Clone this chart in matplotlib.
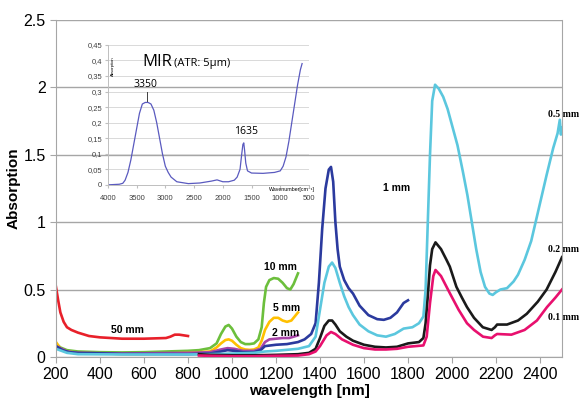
import matplotlib
matplotlib.use("Agg")
import matplotlib.pyplot as plt
from matplotlib.ticker import FuncFormatter

plt.rcParams['font.family'] = ['Liberation Sans', 'DejaVu Sans']

# ---- main spectra (wavelength nm, absorption) ----
wl_50 = [200, 210, 220, 235, 250, 270, 300, 350, 400, 500, 600, 700, 720, 740, 760, 780, 800]
ab_50 = [0.52, 0.42, 0.33, 0.26, 0.22, 0.2, 0.18, 0.155, 0.145, 0.135, 0.135, 0.14, 0.15, 0.165,
         0.165, 0.16, 0.155]

wl_10 = [200, 220, 250, 300, 400, 500, 600, 700, 800, 850, 900, 930, 950, 970, 985, 1000, 1020,
         1040, 1060, 1080, 1100, 1120, 1135, 1145, 1155, 1170, 1190, 1210, 1230, 1250, 1265, 1280, 1300]
ab_10 = [0.1, 0.07, 0.05, 0.04, 0.035, 0.033, 0.035, 0.04, 0.045, 0.05, 0.065, 0.1, 0.17, 0.225,
         0.237, 0.21, 0.15, 0.11, 0.095, 0.095, 0.1, 0.13, 0.22, 0.4, 0.52, 0.57, 0.585, 0.58, 0.55,
         0.51, 0.5, 0.54, 0.62]

wl_5 = [200, 220, 250, 300, 400, 500, 600, 700, 800, 900, 930, 950, 970, 985, 1000, 1020, 1040,
        1060, 1080, 1100, 1120, 1135, 1150, 1170, 1190, 1210, 1230, 1250, 1270, 1285, 1300]
ab_5 = [0.11, 0.06, 0.04, 0.03, 0.025, 0.022, 0.022, 0.025, 0.03, 0.04, 0.07, 0.1, 0.125, 0.13,
        0.12, 0.09, 0.065, 0.055, 0.052, 0.055, 0.07, 0.12, 0.2, 0.26, 0.29, 0.29, 0.27, 0.26, 0.27,
        0.3, 0.33]

wl_2 = [200, 250, 300, 500, 800, 900, 950, 980, 1010, 1050, 1100, 1130, 1150, 1170, 1200, 1230,
        1260, 1300]
ab_2 = [0.08, 0.04, 0.03, 0.025, 0.03, 0.035, 0.055, 0.065, 0.06, 0.045, 0.045, 0.06, 0.11, 0.13,
        0.135, 0.14, 0.14, 0.16]

wl_1 = [200, 230, 260, 300, 500, 800, 900, 950, 980, 1010, 1050, 1100, 1130, 1150, 1200, 1250,
        1300, 1330, 1360, 1380, 1395, 1410, 1425, 1440, 1450, 1460, 1470, 1480, 1490, 1510, 1530,
        1550, 1580, 1620, 1660, 1690, 1720, 1750, 1780, 1800]
ab_1 = [0.08, 0.05, 0.035, 0.03, 0.022, 0.02, 0.025, 0.04, 0.05, 0.045, 0.035, 0.035, 0.05, 0.08,
        0.09, 0.095, 0.11, 0.13, 0.17, 0.25, 0.55, 0.95, 1.25, 1.39, 1.41, 1.3, 1.0, 0.8, 0.67, 0.57,
        0.51, 0.47, 0.38, 0.31, 0.28, 0.275, 0.29, 0.33, 0.4, 0.42]

wl_05 = [200, 250, 300, 500, 800, 900, 1000, 1100, 1150, 1200, 1300, 1350, 1380, 1400, 1420, 1440,
         1455, 1470, 1490, 1510, 1530, 1550, 1580, 1620, 1660, 1700, 1740, 1780, 1820, 1850, 1870,
         1880, 1890, 1900, 1910, 1923, 1940, 1960, 1980, 2000, 2025, 2050, 2070, 2090, 2110, 2130,
         2150, 2170, 2185, 2200, 2220, 2250, 2280, 2300, 2330, 2360, 2400, 2430, 2460, 2480, 2490,
         2495, 2500]
ab_05 = [0.06, 0.03, 0.02, 0.018, 0.018, 0.02, 0.025, 0.03, 0.04, 0.045, 0.06, 0.08, 0.15, 0.35,
         0.55, 0.67, 0.7, 0.66, 0.55, 0.45, 0.37, 0.31, 0.24, 0.19, 0.16, 0.15, 0.17, 0.21, 0.22,
         0.25, 0.3, 0.5, 1.0, 1.5, 1.9, 2.02, 1.99, 1.93, 1.84, 1.72, 1.57, 1.37, 1.2, 1.0, 0.8,
         0.63, 0.52, 0.47, 0.46, 0.48, 0.5, 0.51, 0.56, 0.61, 0.72, 0.86, 1.14, 1.35, 1.55, 1.66,
         1.76, 1.65, 1.7]

wl_02 = [850, 900, 1000, 1100, 1200, 1300, 1350, 1380, 1400, 1420, 1440, 1455, 1470, 1490, 1520,
         1550, 1600, 1650, 1700, 1750, 1780, 1800, 1850, 1870, 1880, 1890, 1900, 1910, 1925, 1950,
         1975, 1990, 2020, 2045, 2068, 2100, 2140, 2180, 2195, 2205, 2250, 2300, 2340, 2390, 2430,
         2470, 2500]
ab_02 = [0.02, 0.015, 0.012, 0.012, 0.015, 0.02, 0.03, 0.06, 0.14, 0.23, 0.27, 0.27, 0.24, 0.19,
         0.15, 0.12, 0.09, 0.075, 0.07, 0.075, 0.09, 0.1, 0.11, 0.14, 0.25, 0.45, 0.68, 0.8, 0.85,
         0.8, 0.72, 0.67, 0.52, 0.44, 0.37, 0.29, 0.22, 0.2, 0.22, 0.24, 0.24, 0.27, 0.32, 0.41, 0.5,
         0.63, 0.74]

wl_01 = [850, 900, 1000, 1100, 1200, 1300, 1350, 1380, 1400, 1430, 1450, 1470, 1500, 1550, 1600,
         1650, 1700, 1750, 1800, 1870, 1885, 1900, 1915, 1925, 1950, 1991, 2030, 2068, 2100, 2141,
         2180, 2195, 2205, 2270, 2330, 2386, 2432, 2470, 2500]
ab_01 = [0.01, 0.008, 0.005, 0.005, 0.008, 0.01, 0.02, 0.04, 0.08, 0.16, 0.185, 0.17, 0.13, 0.09,
         0.065, 0.055, 0.055, 0.06, 0.075, 0.085, 0.15, 0.4, 0.6, 0.645, 0.6, 0.47, 0.35, 0.25, 0.2,
         0.15, 0.14, 0.16, 0.17, 0.165, 0.2, 0.27, 0.37, 0.44, 0.5]

# ---- MIR inset (wavenumber cm-1, absorption) ----
wn_mir = [4000, 3800, 3740, 3700, 3650, 3600, 3550, 3500, 3450, 3400, 3350, 3300, 3250, 3200,
          3150, 3100, 3050, 3000, 2950, 2900, 2800, 2600, 2400, 2200, 2100, 2000, 1900, 1800, 1750,
          1700, 1670, 1650, 1635, 1620, 1600, 1570, 1500, 1300, 1100, 1000, 950, 900, 850, 800,
          750, 700, 650, 620]
ab_mir = [0.0, 0.002, 0.005, 0.015, 0.04, 0.08, 0.13, 0.18, 0.23, 0.26, 0.265, 0.265, 0.26, 0.24,
          0.2, 0.15, 0.1, 0.06, 0.04, 0.025, 0.01, 0.004, 0.006, 0.012, 0.016, 0.01, 0.01, 0.015,
          0.025, 0.05, 0.1, 0.13, 0.135, 0.11, 0.07, 0.045, 0.038, 0.037, 0.04, 0.045, 0.06, 0.09,
          0.14, 0.2, 0.26, 0.32, 0.37, 0.39]

fig = plt.figure(figsize=(5.83, 4.01), dpi=100)
ax = fig.add_axes([0.096, 0.110, 0.868, 0.840])

series = [
    (wl_50, ab_50, "#e8202a"),
    (wl_10, ab_10, "#6cbf3c"),
    (wl_5, ab_5, "#ffc000"),
    (wl_2, ab_2, "#a845a8"),
    (wl_1, ab_1, "#2b3a9e"),
    (wl_05, ab_05, "#5bc7de"),
    (wl_02, ab_02, "#1a1a1a"),
    (wl_01, ab_01, "#e8106e"),
]
for x, y, c in series:
    ax.plot(x, y, color=c, lw=1.9, solid_joinstyle="round")

ax.set_xlim(200, 2500)
ax.set_ylim(0, 2.5)
ax.set_xticks(range(200, 2401, 200))
ax.set_yticks([0, 0.5, 1, 1.5, 2, 2.5])
ax.set_yticklabels(["0", "0.5", "1", "1.5", "2", "2.5"])
ax.yaxis.grid(True, color="#a6a6a6", lw=1)
ax.set_axisbelow(True)
for s in ["left", "bottom", "right"]:
    ax.spines[s].set_color("#a6a6a6")
ax.spines["top"].set_visible(False)
ax.tick_params(axis="both", labelsize=11.5, color="#a6a6a6", length=4)
ax.set_xlabel("wavelength [nm]", fontsize=11, fontweight="bold", labelpad=1)
ax.set_ylabel("Absorption", fontsize=11, fontweight="bold", labelpad=2)

# curve labels
lab = dict(fontsize=7.5, fontweight="bold", ha="center", va="center")
ax.text(527, 0.2, "50 mm", **lab)
ax.text(1218, 0.67, "10 mm", **lab)
ax.text(1250, 0.36, "5 mm", **lab)
ax.text(1245, 0.18, "2 mm", **lab)
ax.text(1750, 1.25, "1 mm", **lab)
serif = dict(fontsize=7, fontweight="bold", ha="left", va="center",
             family="Liberation Serif", clip_on=False)
ax.text(2436, 1.8, "0.5 mm", **serif)
ax.text(2436, 0.8, "0.2 mm", **serif)
ax.text(2436, 0.29, "0.1 mm", **serif)

# inset
ins = fig.add_axes([0.185, 0.539, 0.345, 0.349])
ins.patch.set_alpha(0)
ins.plot(wn_mir, ab_mir, color="#5a5abf", lw=0.9)
ins.set_xlim(4000, 500)
ins.set_ylim(0, 0.45)
ins.set_xticks(range(4000, 499, -500))
ins.set_yticks([i * 0.05 for i in range(10)])
ins.yaxis.set_major_formatter(FuncFormatter(lambda v, p: ("%g" % round(v, 2)).replace(".", ",")))
ins.yaxis.grid(True, color="#d9d9d9", lw=0.7)
ins.set_axisbelow(True)
for s in ["top", "right"]:
    ins.spines[s].set_visible(False)
for s in ["left", "bottom"]:
    ins.spines[s].set_color("#bfbfbf")
    ins.spines[s].set_linewidth(0.7)
ins.tick_params(axis="both", labelsize=5.5, labelcolor="#404040", color="#bfbfbf", length=2, pad=2)
ins.tick_params(axis="x", pad=5)
ins.text(0.17, 0.88, "MIR", transform=ins.transAxes, fontsize=12, va="center", family="Open Sans")
ins.text(0.33, 0.87, "(ATR: 5\u00b5m)", transform=ins.transAxes, fontsize=8, va="center",
         family="Open Sans")
ins.text(3350, 0.322, "3350", fontsize=7.5, ha="center", va="center", family="Open Sans")
ins.plot([3320, 3320], [0.27, 0.3], color="#404040", lw=0.7)
ins.text(1590, 0.17, "1635", fontsize=7.5, ha="center", va="center", family="Open Sans")
ins.text(0.025, 0.85, "Absorption", transform=ins.transAxes, fontsize=3, rotation=90,
         ha="center", va="center")
ins.text(0.915, -0.035, "Wavenumber[cm\u207b\u00b9]", transform=ins.transAxes, fontsize=3.8,
         ha="center", va="center")

fig.savefig("out.png", dpi=100)
